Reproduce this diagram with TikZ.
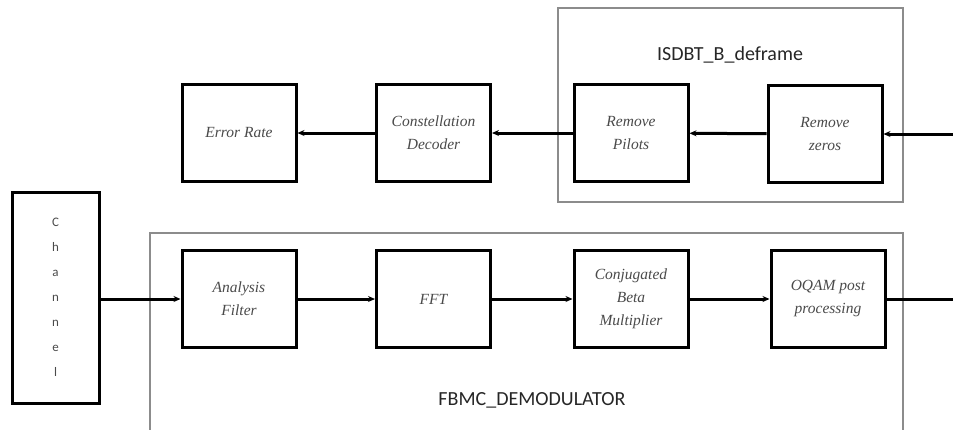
\documentclass[tikz,border=0pt]{standalone}
\usepackage{fontspec}
\setmainfont{Liberation Serif}
\newfontfamily\labelfont{Carlito}
\usetikzlibrary{arrows.meta,positioning}
\definecolor{txtgray}{HTML}{4A4A4A}
\definecolor{framegray}{HTML}{8C8C8C}
\tikzset{
  blockbox/.style={draw=black, line width=3pt, minimum width=114pt, minimum height=97pt,
    align=center, inner sep=2pt, font=\itshape\fontsize{15.5}{23}\selectfont, text=txtgray},
  groupframe/.style={draw=framegray, line width=1.3pt},
  grouplabel/.style={font=\labelfont\fontsize{20}{24}\selectfont, text=black!85},
  flow/.style={line width=3pt, -{Stealth[length=7pt,width=6pt]}}
}
\begin{document}
\begin{tikzpicture}[x=1pt,y=-1pt]
  \useasboundingbox (0,0) rectangle (953,429);
  % group frames
  \draw[groupframe] (558,8) rectangle (903,202);
  \draw[groupframe] (150,436) -- (150,233) -- (903,233) -- (903,436);
  \node[grouplabel] (deframelabel) at (730,55) {ISDBT\_B\_deframe};
  \node[grouplabel] (demodlabel) at (532,400) {FBMC\_DEMODULATOR};
  % receiver back end
  \node[blockbox] (err) at (239,133) {Error Rate};
  \node[blockbox] (cdec) at (433.5,133) {Constellation\\Decoder};
  \node[blockbox] (rpil) at (631,133) {Remove\\Pilots};
  \node[blockbox] (rzer) at (825,134) {Remove\\zeros};
  \coordinate (inzer) at (953,134);
  % channel
  \node[draw=black, line width=3pt, minimum width=87pt, minimum height=211pt,
        font=\labelfont\fontsize{13}{25}\selectfont, text=txtgray, align=center]
        (chan) at (55.5,297.5) {C\\h\\a\\n\\n\\e\\l};
  % demodulator chain
  \node[blockbox] (afil) at (239,299) {Analysis\\Filter};
  \node[blockbox] (fft) at (433.5,299) {FFT};
  \node[blockbox] (cbm) at (631,299) {Conjugated\\Beta\\Multiplier};
  \node[blockbox] (oqam) at (828,299) {OQAM post\\processing};
  \coordinate (outq) at (953,299);
  % connectors
  \draw[flow] (inzer) -- (rzer);
  \draw[flow] (rzer) -- (rpil);
  \draw[flow] (rpil) -- (cdec);
  \draw[flow] (cdec) -- (err);
  \draw[flow] (chan.east |- afil) -- (afil);
  \draw[flow] (afil) -- (fft);
  \draw[flow] (fft) -- (cbm);
  \draw[flow] (cbm) -- (oqam);
  \draw[line width=3pt] (oqam) -- (outq);
\end{tikzpicture}
\end{document}
